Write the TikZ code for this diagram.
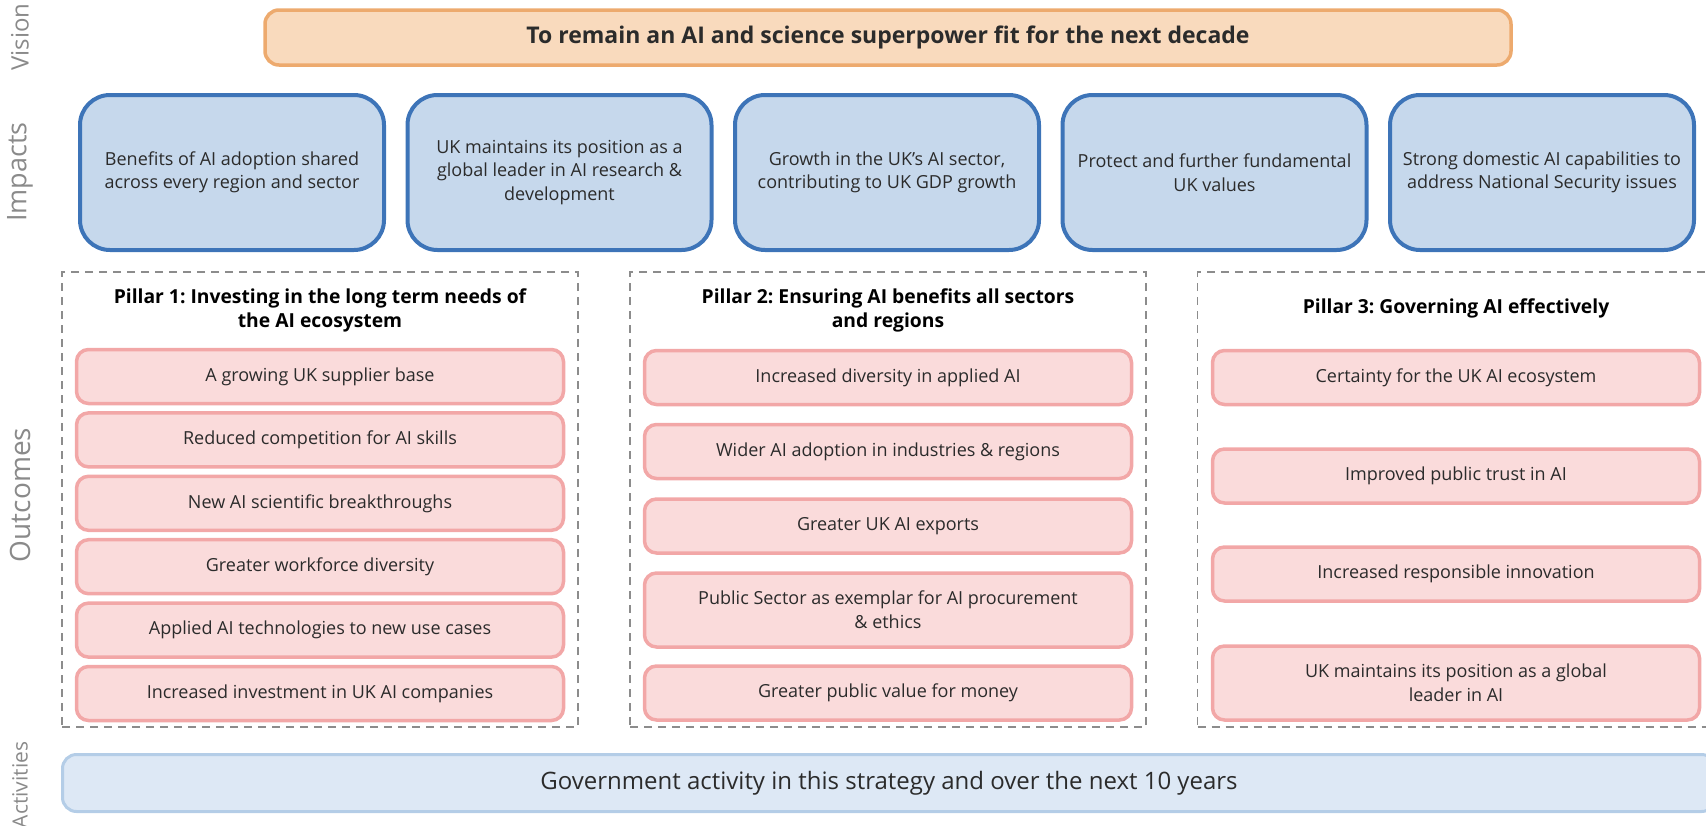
\documentclass[tikz,border=0pt]{standalone}
\usepackage{fontspec}
\setmainfont{Open Sans}
\frenchspacing
\definecolor{visionfill}{HTML}{F9DABD}
\definecolor{visionline}{HTML}{EDAA6E}
\definecolor{impactfill}{HTML}{C6D8EC}
\definecolor{impactline}{HTML}{3D74B8}
\definecolor{outfill}{HTML}{FADBDB}
\definecolor{outline}{HTML}{F2A7A7}
\definecolor{actfill}{HTML}{DDE8F5}
\definecolor{actline}{HTML}{B4CDE7}
\definecolor{dashgray}{HTML}{8C8C8C}
\definecolor{textcol}{HTML}{2B2B2B}
\definecolor{sidegray}{HTML}{8A8A8A}
\begin{document}
\frenchspacing
\begin{tikzpicture}[x=1pt,y=-1pt,
  visionbox/.style={draw=visionline, fill=visionfill, line width=3.5pt, rounded corners=14pt,
    minimum width=1246pt, minimum height=55pt, inner sep=0pt, text=textcol,
    font=\fontsize{23}{28}\selectfont\bfseries},
  impactbox/.style={draw=impactline, fill=impactfill, line width=4pt, rounded corners=30pt,
    minimum width=304pt, minimum height=155pt, inner sep=0pt, align=center, text=textcol,
    font=\fontsize{18}{23.5}\selectfont},
  pillarframe/.style={draw=dashgray, dash pattern=on 8pt off 6pt, line width=1.8pt,
    minimum width=516pt, minimum height=455pt, inner sep=0pt},
  pillartitle/.style={align=center, text=black, font=\fontsize{19.3}{24}\selectfont\bfseries, inner sep=0pt},
  outbox/.style={draw=outline, fill=outfill, line width=3.5pt, rounded corners=12pt,
    minimum width=487pt, minimum height=54pt, inner sep=0pt, align=center, text=textcol,
    font=\fontsize{18}{24}\selectfont},
  tallbox/.style={outbox, minimum height=74pt},
  actbox/.style={draw=actline, fill=actfill, line width=3pt, rounded corners=14pt,
    minimum width=1653pt, minimum height=57pt, inner sep=0pt, text=textcol,
    font=\fontsize{24}{28}\selectfont},
  sidelabel/.style={rotate=90, text=sidegray, inner sep=0pt}
]
\useasboundingbox (0,0) rectangle (1706,825);

% side labels
\node[sidelabel, font=\fontsize{24}{28}\selectfont] (lv) at (20,37) {Vision};
\node[sidelabel, font=\fontsize{27}{30}\selectfont] (li) at (20,172) {Impacts};
\node[sidelabel, font=\fontsize{28}{30}\selectfont] (lo) at (20,495) {Outcomes};
\node[sidelabel, font=\fontsize{21}{26}\selectfont] (la) at (20,785) {Activities};

% vision
\node[visionbox] (vis) at (888,37.5) {To remain an AI and science superpower fit for the next decade};

% impacts
\node[impactbox] (im1) at (232,172.5) {Benefits of AI adoption shared\\across every region and sector};
\node[impactbox] (im2) at (559.5,172.5) {UK maintains its position as a\\global leader in AI research \&\\development};
\node[impactbox] (im3) at (887,172.5) {Growth in the UK’s AI sector,\\contributing to UK GDP growth};
\node[impactbox] (im4) at (1214.5,172.5) {Protect and further fundamental\\UK values};
\node[impactbox] (im5) at (1542,172.5) {Strong domestic AI capabilities to\\address National Security issues};

% pillar frames
\node[pillarframe] (p1) at (320,499.5) {};
\node[pillarframe] (p2) at (888,499.5) {};
\node[pillarframe] (p3) at (1455.5,499.5) {};

\node[pillartitle] (t1) at (320,310.5) {Pillar 1: Investing in the long term needs of\\the AI ecosystem};
\node[pillartitle] (t2) at (888,310.5) {Pillar 2: Ensuring AI benefits all sectors\\and regions};
\node[pillartitle] (t3) at (1456,308) {Pillar 3: Governing AI effectively};

% pillar 1 outcomes
\node[outbox] (a1) at (320,376.5) {A growing UK supplier base};
\node[outbox] (a2) at (320,439.9) {Reduced competition for AI skills};
\node[outbox] (a3) at (320,503.3) {New AI scientific breakthroughs};
\node[outbox] (a4) at (320,566.7) {Greater workforce diversity};
\node[outbox] (a5) at (320,630.1) {Applied AI technologies to new use cases};
\node[outbox] (a6) at (320,693.5) {Increased investment in UK AI companies};

% pillar 2 outcomes
\node[outbox] (b1) at (888,377.5) {Increased diversity in applied AI};
\node[outbox] (b2) at (888,451.5) {Wider AI adoption in industries \& regions};
\node[outbox] (b3) at (888,526) {Greater UK AI exports};
\node[tallbox] (b4) at (888,610) {Public Sector as exemplar for AI procurement\\\& ethics};
\node[outbox] (b5) at (888,693) {Greater public value for money};

% pillar 3 outcomes
\node[outbox] (c1) at (1456,377.5) {Certainty for the UK AI ecosystem};
\node[outbox] (c2) at (1456,476) {Improved public trust in AI};
\node[outbox] (c3) at (1456,574) {Increased responsible innovation};
\node[tallbox] (c4) at (1456,683) {UK maintains its position as a global\\leader in AI};

% activities
\node[actbox] (act) at (889,783) {Government activity in this strategy and over the next 10 years};
\end{tikzpicture}
\end{document}
